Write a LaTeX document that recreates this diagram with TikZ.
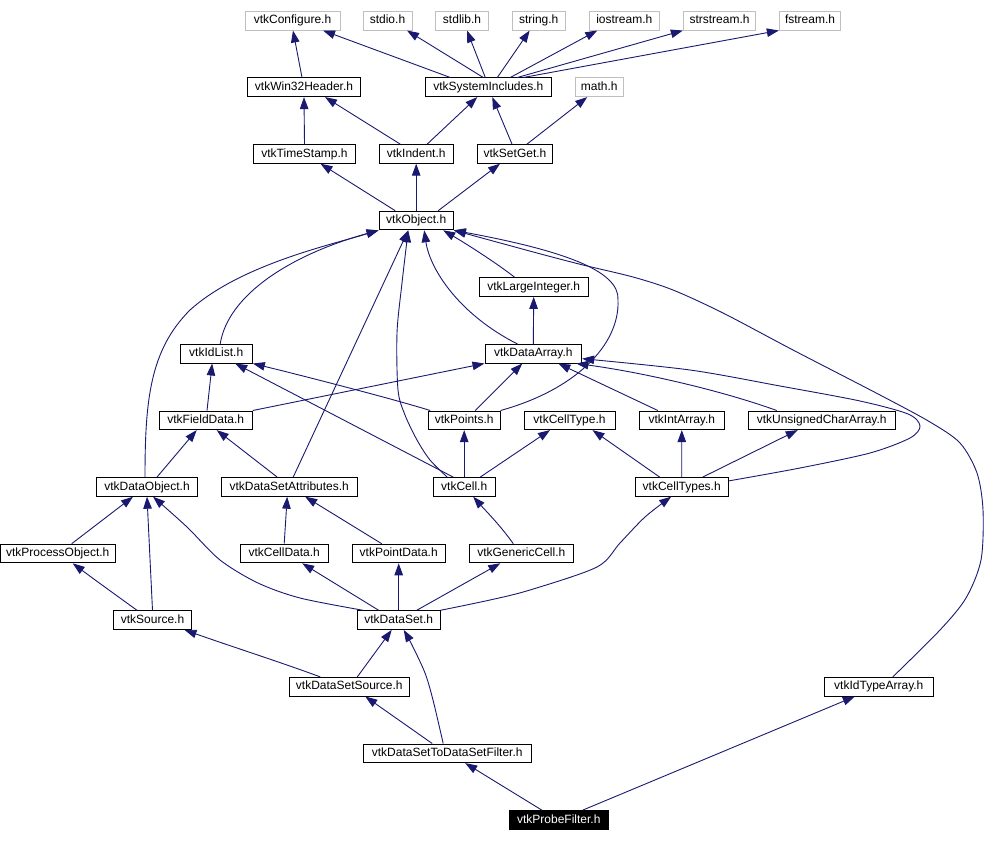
\documentclass[tikz,border=0pt]{standalone}
\usepackage{fontspec}
\setmainfont{Liberation Sans}
\usetikzlibrary{arrows.meta}
\definecolor{edgeblue}{HTML}{191970}
\definecolor{extgray}{HTML}{BFBFBF}
\tikzset{
  box/.style={draw=black, line width=0.9pt, fill=white, font=\fontsize{12}{14}\selectfont,
    inner xsep=2pt, inner ysep=0pt, minimum height=18.7pt, text height=9pt, text depth=2.6pt},
  extbox/.style={box, draw=extgray},
  mainbox/.style={box, fill=black, text=white},
  e/.style={draw=edgeblue, line width=0.9pt, -{Triangle[length=12pt,width=8.5pt]}}
}
\begin{document}
\begin{tikzpicture}[x=1pt,y=-1pt]
\useasboundingbox (0,0) rectangle (998,842);
% row 0
\node[extbox, minimum width=95pt]   (conf)      at (292.5,20.7) {vtkConfigure.h};
\node[extbox, minimum width=49pt]   (stdio)     at (387.5,20.7) {stdio.h};
\node[extbox, minimum width=52.6pt] (stdlib)    at (462,20.7)   {stdlib.h};
\node[extbox, minimum width=52.7pt] (string)    at (538.7,20.7) {string.h};
\node[extbox, minimum width=70pt]   (iostream)  at (624.3,20.7) {iostream.h};
\node[extbox, minimum width=72.4pt] (strstream) at (719.5,20.7) {strstream.h};
\node[extbox, minimum width=61.4pt] (fstream)   at (810,20.7)   {fstream.h};
% row 1
\node[box, minimum width=113.4pt] (win32)  at (304,87.3)   {vtkWin32Header.h};
\node[box, minimum width=126.7pt] (sysinc) at (488.3,87.3) {vtkSystemIncludes.h};
\node[extbox, minimum width=48.3pt] (math) at (599.2,87.3) {math.h};
% row 2
\node[box, minimum width=102.4pt] (timestamp) at (304.5,153.9) {vtkTimeStamp.h};
\node[box, minimum width=74.3pt]  (indent)    at (416.2,153.9) {vtkIndent.h};
\node[box, minimum width=75.4pt]  (setget)    at (515,153.9)   {vtkSetGet.h};
% row 3
\node[box, minimum width=74.3pt] (object) at (416.2,220.5) {vtkObject.h};
% row 4
\node[box, minimum width=109.3pt] (largeint) at (533.7,287.1) {vtkLargeInteger.h};
% row 5
\node[box, minimum width=72.3pt] (idlist)    at (216.2,353.7) {vtkIdList.h};
\node[box, minimum width=96.7pt] (dataarray) at (533.3,353.7) {vtkDataArray.h};
% row 6
\node[box, minimum width=93.3pt]  (fielddata) at (205.7,420.3) {vtkFieldData.h};
\node[box, minimum width=71.7pt]  (points)    at (464.2,420.3) {vtkPoints.h};
\node[box, minimum width=91pt]    (celltype)  at (569.5,420.3) {vtkCellType.h};
\node[box, minimum width=85pt]    (intarray)  at (681.8,420.3) {vtkIntArray.h};
\node[box, minimum width=146.7pt] (uchar)     at (821.7,420.3) {vtkUnsignedCharArray.h};
% row 7
\node[box, minimum width=100.6pt] (dataobject) at (147,486.9)   {vtkDataObject.h};
\node[box, minimum width=136.3pt] (dsattr)     at (289.2,486.9) {vtkDataSetAttributes.h};
\node[box, minimum width=61.7pt]  (cell)       at (464.2,486.9) {vtkCell.h};
\node[box, minimum width=93.3pt]  (celltypes)  at (681.7,486.9) {vtkCellTypes.h};
% row 8
\node[box, minimum width=115.3pt] (procobj)     at (57.7,553.5)  {vtkProcessObject.h};
\node[box, minimum width=88.3pt]  (celldata)    at (284.2,553.5) {vtkCellData.h};
\node[box, minimum width=93pt]    (pointdata)   at (398.7,553.5) {vtkPointData.h};
\node[box, minimum width=104pt]   (genericcell) at (521.3,553.5) {vtkGenericCell.h};
% row 9
\node[box, minimum width=78.3pt] (source)  at (152.5,620.1) {vtkSource.h};
\node[box, minimum width=82.7pt] (dataset) at (398.7,620.1) {vtkDataSet.h};
% row 10
\node[box, minimum width=120pt] (dssource)    at (349.3,686.7) {vtkDataSetSource.h};
\node[box, minimum width=109pt] (idtypearray) at (878.8,686.7) {vtkIdTypeArray.h};
% row 11
\node[box, minimum width=167.7pt] (dsfilter) at (447.2,753.3) {vtkDataSetToDataSetFilter.h};
% row 12
\node[mainbox, minimum width=99pt] (probe) at (558.8,819.9) {vtkProbeFilter.h};

% ---- edges ----
\draw[e] ([xshift=-2pt]win32.north) -- ([xshift=0.5pt]conf.south);
\draw[e] ([xshift=-38pt]sysinc.north) -- ([xshift=30.5pt]conf.south);
\draw[e] ([xshift=-5pt]sysinc.north) -- ([xshift=19.5pt]stdio.south);
\draw[e] ([xshift=-3pt]sysinc.north) -- ([xshift=5pt]stdlib.south);
\draw[e] ([xshift=9pt]sysinc.north) -- ([xshift=-9pt]string.south);
\draw[e] ([xshift=22pt]sysinc.north) -- ([xshift=-27pt]iostream.south);
\draw[e] ([xshift=29pt]sysinc.north) -- (strstream.south west);
\draw[e] ([xshift=35pt]sysinc.north) -- (fstream.south west);

\draw[e] (timestamp.north) -- (win32.south);
\draw[e] ([xshift=-16pt]indent.north) -- ([xshift=21pt]win32.south);
\draw[e] ([xshift=11pt]indent.north) -- ([xshift=-11pt]sysinc.south);
\draw[e] ([xshift=-3pt]setget.north) -- ([xshift=4pt]sysinc.south);
\draw[e] ([xshift=12pt]setget.north) -- ([xshift=-12pt]math.south);

\draw[e] ([xshift=-21pt]object.north) -- ([xshift=16pt]timestamp.south);
\draw[e] (object.north) -- (indent.south);
\draw[e] ([xshift=22pt]object.north) -- ([xshift=-15pt]setget.south);

\draw[e] ([xshift=-19pt]largeint.north) .. controls (495,262) and (465,243) .. ([xshift=27pt]object.south);
\draw[e] ([xshift=-16pt]dataarray.north) .. controls (460,315) and (430,270) .. ([xshift=8pt]object.south);
\draw[e] (dataarray.north) -- (largeint.south);
\draw[e] ([xshift=4pt]idlist.north) .. controls (228,295) and (290,255) .. (object.south west);
\draw[e] ([xshift=-2pt]dataobject.north) .. controls (145,400) and (150,350) .. (190,310)
   .. controls (240,265) and (330,245) .. (object.south west);

\draw[e] ([xshift=1.3pt]fielddata.north) -- ([xshift=-4pt]idlist.south);
\draw[e] (fielddata.north east) -- (dataarray.south west);
\draw[e] ([xshift=-34pt]points.north) .. controls (400,401) and (320,380) .. (idlist.south east);
\draw[e] ([xshift=11pt]points.north) -- ([xshift=-11pt]dataarray.south);
\draw[e] (points.north east) .. controls (575,390) and (620,345) .. (618,300)
   .. controls (620,270) and (560,250) .. (object.south east);
\draw[e] plot[smooth] coordinates {([xshift=14pt]idtypearray.north) (940,630) (966,598) (981,560) (983,510) (977,473) (960,443) (930,422) (880,395) (793,350) (723,313) (673,290) (633,277) (583,265) (537,253) (object.south east)};

\draw[e] plot[smooth] coordinates {([yshift=6pt]celltypes.east) (800,468) (870,453) (910,438) (920,426) (908,414) (860,401) (780,386) (690,370) ([yshift=-5pt]dataarray.east)};
\draw[e] ([xshift=-24pt]intarray.north) -- ([xshift=25pt]dataarray.south);
\draw[e] ([xshift=-45pt]uchar.north) .. controls (720,390) and (640,372) .. ([xshift=43pt]dataarray.south);

\draw[e] ([xshift=-22pt]celltypes.north) -- ([xshift=23pt]celltype.south);
\draw[e] (celltypes.north) -- (intarray.south);
\draw[e] ([xshift=21pt]celltypes.north) -- ([xshift=-24pt]uchar.south);

\draw[e] ([xshift=16pt]cell.north) -- ([xshift=-19.5pt]celltype.south);
\draw[e] (cell.north) -- (points.south);
\draw[e] ([xshift=-11pt]cell.north) -- ([xshift=19pt]idlist.south);
\draw[e] plot[smooth] coordinates {([xshift=-17pt]cell.north) (430,460) (417,440) (405,415) (398,390) (397,333) (402,283) ([xshift=-8pt]object.south)};

\draw[e] ([xshift=4pt]dsattr.north) -- ([xshift=-8pt]object.south);
\draw[e] ([xshift=-12pt]dsattr.north) -- ([xshift=11pt]fielddata.south);
\draw[e] ([xshift=10pt]dataobject.north) -- ([xshift=-9pt]fielddata.south);

\draw[e] ([xshift=14pt]procobj.north) -- ([xshift=-14pt]dataobject.south);
\draw[e] ([xshift=-15.5pt]source.north) .. controls (120,598) and (95,580) .. ([xshift=15pt]procobj.south);
\draw[e] (source.north) -- (dataobject.south);

\draw[e] plot[smooth] coordinates {([xshift=-35.5pt]dataset.north) (300,598) (258,583) (220,560) (187,527) ([xshift=6pt]dataobject.south)};
\draw[e] ([xshift=-20pt]dataset.north) -- ([xshift=18pt]celldata.south);
\draw[e] (dataset.north) -- (pointdata.south);
\draw[e] ([xshift=18pt]dataset.north) -- ([xshift=-21pt]genericcell.south);
\draw[e] plot[smooth] coordinates {(dataset.north east) (490,600) (530,590) (597,567) (620,543) (645,517) ([xshift=-10.5pt]celltypes.south)};

\draw[e] ([xshift=-8pt]genericcell.north) .. controls (500,525) and (485,510) .. ([xshift=9pt]cell.south);
\draw[e] ([xshift=-17pt]pointdata.north) -- ([xshift=16pt]dsattr.south);
\draw[e] (celldata.north) -- ([xshift=-2pt]dsattr.south);

\draw[e] ([xshift=8pt]dssource.north) -- ([xshift=-7pt]dataset.south);
\draw[e] ([xshift=-29pt]dssource.north) .. controls (280,662) and (230,646) .. ([xshift=32pt]source.south);
\draw[e] ([xshift=-15pt]dsfilter.north) -- ([xshift=16pt]dssource.south);
\draw[e] plot[smooth] coordinates {([xshift=-4pt]dsfilter.north) (433,700) (425,673) (412,645) ([xshift=5pt]dataset.south)};

\draw[e] ([xshift=-17pt]probe.north) -- ([xshift=18pt]dsfilter.south);
\draw[e] ([xshift=24pt]probe.north) -- ([xshift=-24pt]idtypearray.south);
\end{tikzpicture}
\end{document}
